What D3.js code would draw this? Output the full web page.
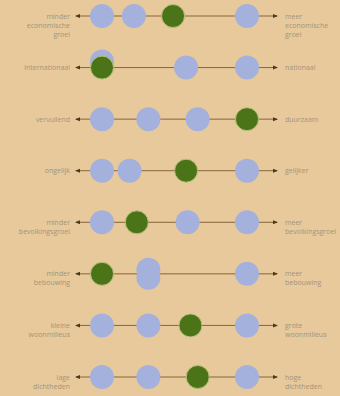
<!DOCTYPE html>
<html>
<head>
<meta charset="utf-8">
<script src="https://cdn.jsdelivr.net/npm/d3@7"></script>
<style>
  body { margin: 0; background: #e8c99b; }
  svg { display: block; }
</style>
</head>
<body>
<div id="chart"></div>
<script>
// labels on both ends of every scale
var leftLabels = [
  ["minder", "economische", "groei"],
  ["internationaal"],
  ["vervuilend"],
  ["ongelijk"],
  ["minder", "bevolkingsgroei"],
  ["minder", "bebouwing"],
  ["kleine", "woonmilieus"],
  ["lage", "dichtheden"]
]
var rightLabels = [
  ["meer", "economische", "groei"],
  ["nationaal"],
  ["duurzaam"],
  ["gelijker"],
  ["meer", "bevolkingsgroei"],
  ["meer", "bebouwing"],
  ["grote", "woonmilieus"],
  ["hoge", "dichtheden"]
]
// position of the blue dots (other scenarios) and the green dot, 0 - 100
var blueValues = [
  [0, 22, 100],
  [0, 58, 100],
  [0, 32, 66],
  [0, 19, 100],
  [0, 59, 100],
  [32, 32, 100],
  [0, 32, 100],
  [0, 32, 100]
]
var greenValues = [49, 0, 100, 58, 24, 0, 61, 66]

var width = 340
    height = 396

var svg = d3.select("#chart")
  .append("svg")
    .attr("width", width)
    .attr("height", height)

svg.append("rect")
  .attr("width", width)
  .attr("height", height)
  .attr("fill", "#e8c99b")

var x = d3.scaleLinear()
  .domain([0, 100])
  .range([102, 247])

var rows = d3.range(leftLabels.length)
var y = d3.scalePoint()
  .domain(rows)
  .range([16, 377])

svg.append("defs").append("marker")
    .attr("id", "arrow")
    .attr("viewBox", "0 0 10 10")
    .attr("refX", 8).attr("refY", 5)
    .attr("markerWidth", 5).attr("markerHeight", 5)
    .attr("orient", "auto-start-reverse")
  .append("path")
    .attr("d", "M0,1L10,5L0,9Z")
    .attr("fill", "#4a3a1c")

var row = svg.selectAll(".row")
  .data(rows)
  .enter()
  .append("g")
    .attr("class", "row")
    .attr("transform", function(i) { return "translate(0," + y(i) + ")" })

// the line with arrows on both ends
row.append("line")
  .attr("x1", x(0) - 26)
  .attr("x2", x(100) + 30)
  .attr("stroke", "#87663a")
  .attr("stroke-width", 1)
  .attr("marker-start", "url(#arrow)")
  .attr("marker-end", "url(#arrow)")

// blue dots, shift the ones that sit on top of each other
row.selectAll(".blue")
  .data(function(i) {
    var vals = blueValues[i]
    return vals.map(function(v, j) {
      var dup = vals.filter(function(w) { return w == v }).length > 1
      var under = greenValues[i] == v
      var dy = under ? -6 : (dup ? (j == vals.indexOf(v) ? -4 : 4) : 0)
      return { v: v, dy: dy }
    })
  })
  .enter()
  .append("circle")
    .attr("class", "blue")
    .attr("cx", function(d) { return x(d.v) })
    .attr("cy", function(d) { return d.dy })
    .attr("r", 12)
    .attr("fill", "#a4b1dd")

row.append("circle")
  .attr("cx", function(i) { return x(greenValues[i]) })
  .attr("cy", 0)
  .attr("r", 11.5)
  .attr("fill", "#4b7419")
  .attr("stroke", "#b9c27a")
  .attr("stroke-width", 1)

row.append("text")
  .attr("x", x(0) - 32)
  .attr("y", 2.5)
  .attr("text-anchor", "end")
  .selectAll("tspan")
  .data(function(i) { return leftLabels[i] })
  .enter()
  .append("tspan")
    .attr("x", x(0) - 32)
    .attr("dy", function(d, j) { return j == 0 ? 0 : 9 })
    .text(function(d) { return d })

row.append("text")
  .attr("x", x(100) + 38)
  .attr("y", 2.5)
  .selectAll("tspan")
  .data(function(i) { return rightLabels[i] })
  .enter()
  .append("tspan")
    .attr("x", x(100) + 38)
    .attr("dy", function(d, j) { return j == 0 ? 0 : 9 })
    .text(function(d) { return d })

svg.selectAll("text")
  .style("font-family", "'Open Sans', sans-serif")
  .style("font-size", "7px")
  .style("fill", "#a3947c")
</script>
</body>
</html>
